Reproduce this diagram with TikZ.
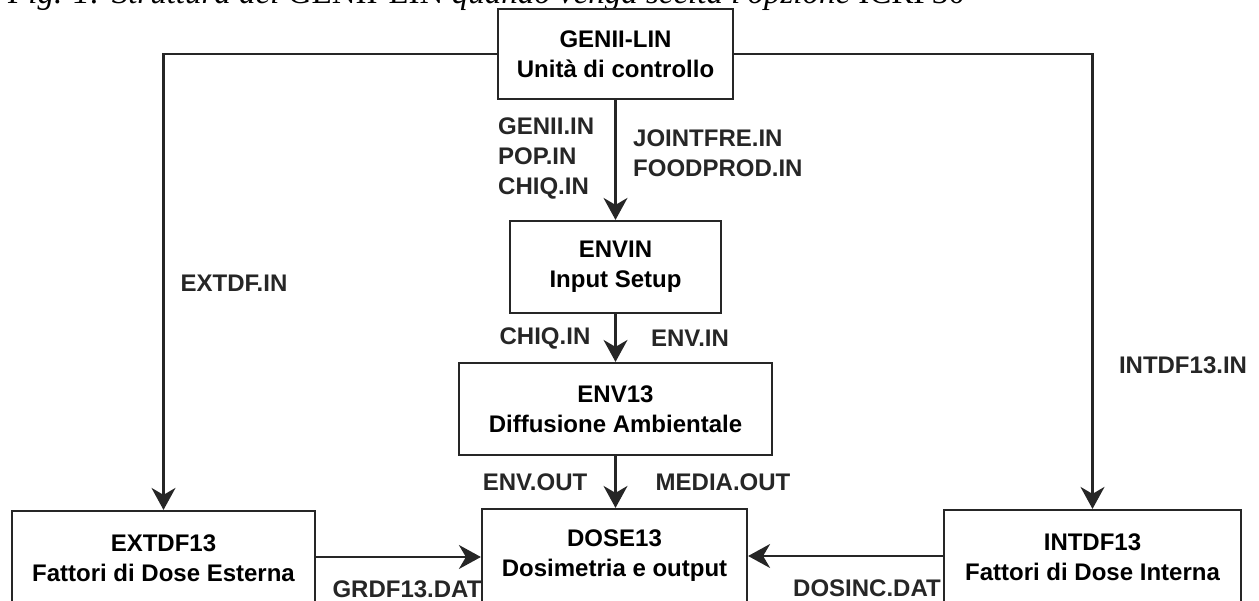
\documentclass[tikz,border=0pt]{standalone}
\usepackage{fontspec}
\setmainfont{Liberation Sans}
\newfontfamily\capfont{Liberation Serif}
\usetikzlibrary{arrows.meta}
\begin{document}
\begin{tikzpicture}[x=1pt,y=-1pt,
  box/.style={draw=black!85,line width=2.2pt,rectangle,align=center,inner sep=0pt,
    font=\fontsize{24}{30}\selectfont\bfseries},
  lbl/.style={inner sep=0pt,font=\fontsize{24}{30}\selectfont\bfseries,text=black!85},
  conn/.style={draw=black!85,line width=2.2pt},
  arr/.style={conn,-{Stealth[length=22pt,width=24pt,inset=7pt]}}]
\useasboundingbox (0,0) rectangle (1259,601);
\clip (0,0) rectangle (1259,601);
% caption (cut off at top)
\node[anchor=base west,inner sep=0pt,font=\capfont\fontsize{33}{36}\selectfont] (cap) at (8,4)
  {\textit{Fig. 1: Struttura del} GENII-LIN \textit{quando venga scelta l'opzione} ICRP30};
% boxes
\node[box,fill=white,minimum width=235pt,minimum height=90pt] (gen) at (615.5,54) {GENII-LIN\\Unità di controllo};
\node[box,minimum width=211pt,minimum height=92pt] (envin) at (615.5,267) {ENVIN\\Input Setup};
\node[box,minimum width=313pt,minimum height=92pt] (env) at (615.5,409) {ENV13\\Diffusione Ambientale};
\node[box,minimum width=265pt,minimum height=94pt] (dose) at (614.5,556) {DOSE13\\Dosimetria e output};
\node[box,minimum width=303pt,minimum height=94pt] (ext) at (163.5,558) {EXTDF13\\Fattori di Dose Esterna};
\node[box,minimum width=297pt,minimum height=94pt] (int) at (1092.5,557) {INTDF13\\Fattori di Dose Interna};
% connectors
\coordinate (cl) at (163.5,54);
\coordinate (cr) at (1092.5,54);
\draw[arr] (gen.west) -- (cl) -- (ext.north);
\draw[arr] (gen.east) -- (cr) -- (int.north);
\draw[arr] (gen.south) -- (envin.north);
\draw[arr] (envin.south) -- (env.north);
\draw[arr] (env.south) -- (env.south |- dose.north);
\draw[arr] (ext.east |- 0,557) -- (dose.west |- 0,557);
\draw[arr] (int.west |- 0,556) -- (dose.east |- 0,556);
% labels
\node[lbl] (l1) at (234,283) {EXTDF.IN};
\node[lbl] (l2) at (1183,365) {INTDF13.IN};
\node[lbl,anchor=west,align=left] (l3) at (498,158) {GENII.IN\\POP.IN\\CHIQ.IN};
\node[lbl,anchor=west,align=left] (l4) at (633,153) {JOINTFRE.IN\\FOODPROD.IN};
\node[lbl] (l5) at (545,338) {CHIQ.IN};
\node[lbl] (l6) at (690,338) {ENV.IN};
\node[lbl] (l7) at (535,482) {ENV.OUT};
\node[lbl] (l8) at (723,482) {MEDIA.OUT};
\node[lbl] (l9) at (407,589) {GRDF13.DAT};
\node[lbl] (l10) at (867,588) {DOSINC.DAT};
\end{tikzpicture}
\end{document}
